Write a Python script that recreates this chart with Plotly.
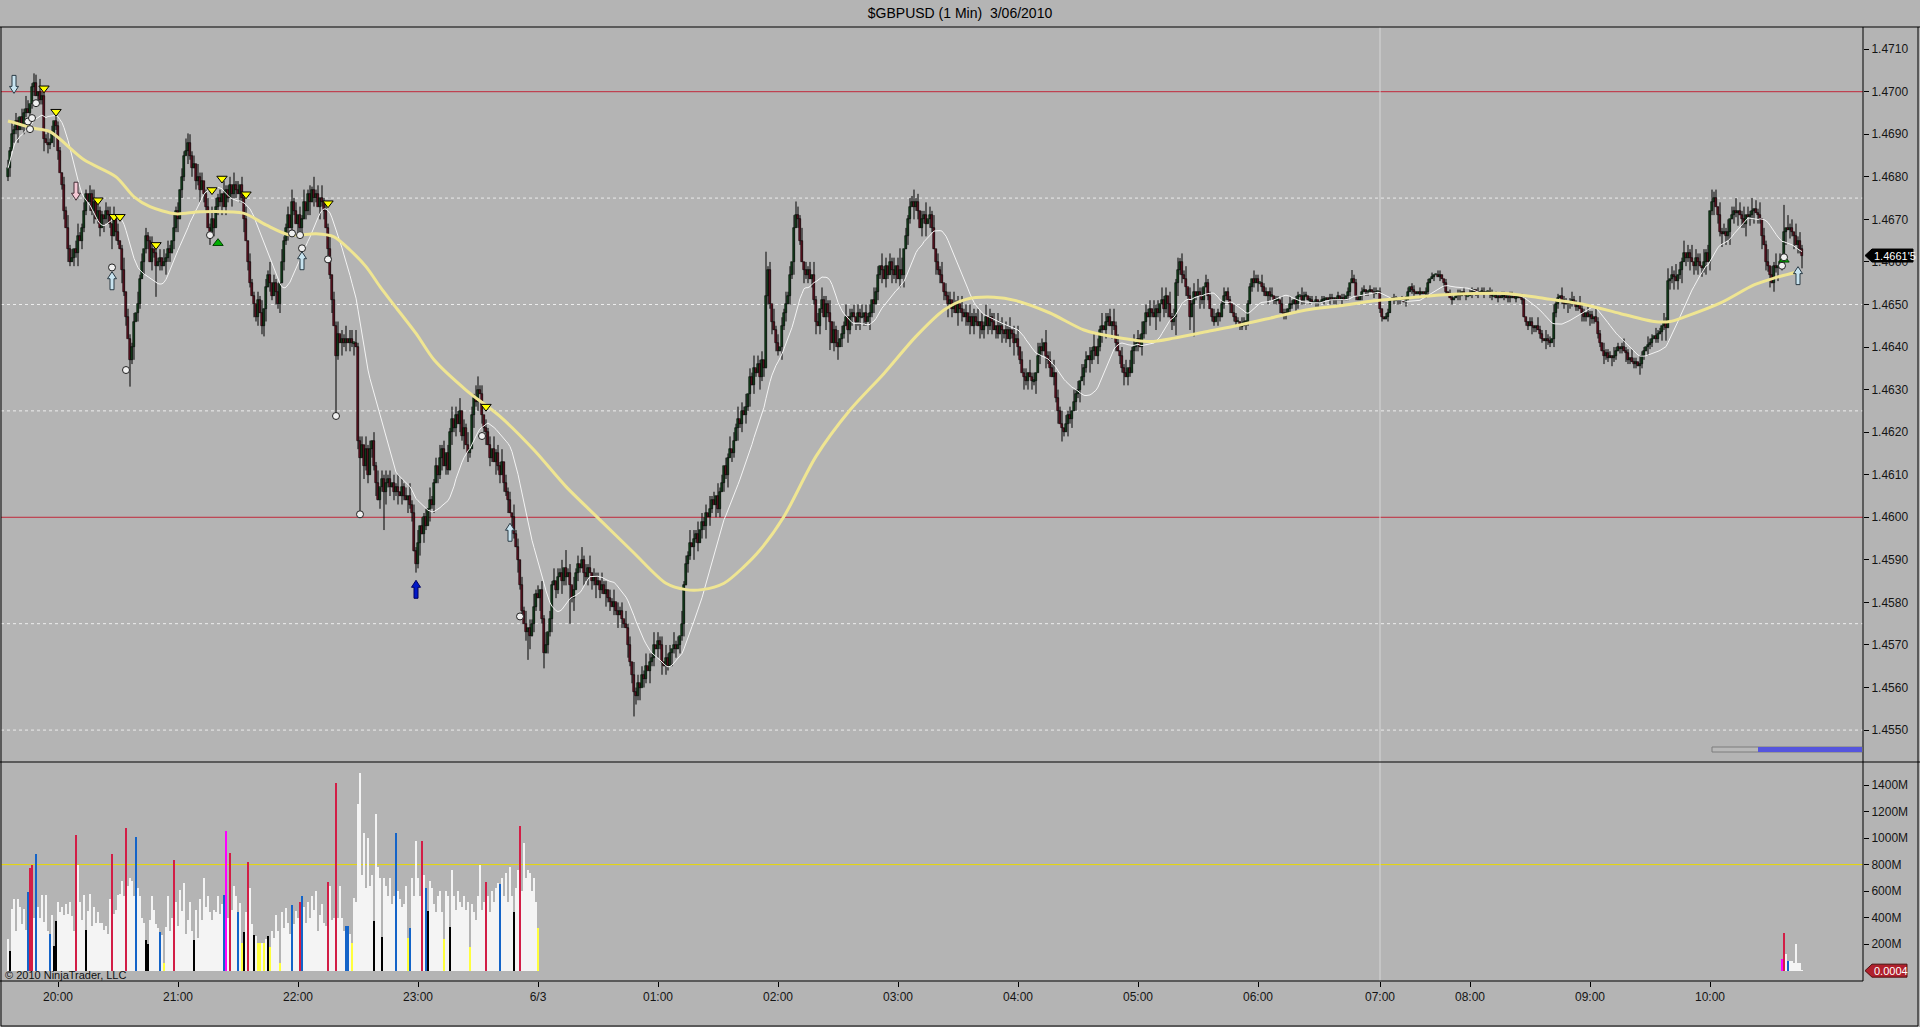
import plotly.graph_objects as go

# ---------------- DATA (prices in pips above 1.4500) ----------------
BASE = 1.4500
PIP = 0.0001

first_open_pips = 180
closes_pips = [
    182, 186, 190, 191, 193, 191, 194, 192, 195, 196,
    195, 197, 201, 202, 199, 200, 198, 199, 189, 188,
    187.5, 188, 190, 193, 192, 186, 181, 178, 172, 168,
    163, 160, 161, 163, 162, 166, 165, 168, 172, 176,
    174, 176, 172, 174, 170, 172, 168, 171, 170, 172,
    171, 169, 166, 170, 167, 165, 163, 158, 153, 147,
    142, 137, 140, 146, 148, 150, 156, 160, 163, 166,
    165, 160, 163, 162, 159, 160, 161, 159, 160, 161,
    163, 162, 165, 168, 172, 170, 177, 180, 185, 186,
    188, 185, 182, 183, 179, 180, 177, 179, 176, 173,
    168, 167, 170, 168, 173, 175, 174, 176, 173, 177,
    175, 178, 176, 178, 177, 176, 178, 175, 170, 165,
    160, 155, 152, 150, 147, 151, 148, 145, 149, 154,
    157, 155, 152, 155, 153, 150, 155, 160, 165, 168,
    171, 168, 174, 172, 169, 171, 168, 170, 174, 172,
    176, 174, 177, 175, 176, 173, 175, 174, 172, 168,
    163, 157, 151, 145, 138, 143, 141, 142, 141, 142,
    141, 142, 141, 141, 140, 118, 114, 117, 112, 116,
    110, 116, 118, 112, 108, 104, 107, 109, 106, 108,
    109, 107, 108, 106, 107, 106, 105, 107, 105, 104,
    105, 103, 101, 92, 89, 94, 98, 96, 100, 98,
    102, 104, 103, 108, 112, 110, 114, 116, 112, 115,
    111, 120, 123, 121, 124, 122, 125, 119, 121, 117,
    115, 116, 124, 128, 127, 130, 129, 124, 121, 120,
    117, 114, 116, 113, 115, 112, 110, 113, 108, 106,
    104, 101, 100, 96, 93, 90, 84, 78, 75, 73,
    74, 72, 75, 79, 82, 81, 83, 76, 68, 70,
    73, 76, 84, 85, 83, 86, 87, 85, 88, 86,
    87, 84, 81, 83, 87, 89, 88, 90, 87, 86,
    88, 87, 85, 86, 84, 85, 83, 84, 82, 83,
    81, 80, 79, 80, 78, 77, 78, 76, 75, 74,
    70, 66, 63, 59, 58, 61, 60, 63, 62, 65,
    64, 66, 67, 70, 69, 71, 70, 66, 65, 67,
    65, 68, 69, 70, 69, 70, 72, 75, 84, 89,
    91, 94, 93, 95, 96, 94, 97, 99, 98, 101,
    100, 102, 104, 103, 105, 102, 106, 108, 112, 110,
    114, 116, 115, 118, 121, 123, 122, 125, 124, 126,
    129, 133, 131, 135, 134, 136, 133, 137, 135, 152,
    158, 150, 146, 144, 141, 139, 140, 145, 148, 150,
    152, 157, 160, 168, 171, 170, 165, 160, 158, 157,
    158, 156, 157, 151, 146, 145, 149, 151, 147, 150,
    148, 146, 141, 144, 141, 140, 142, 143, 145, 147,
    144, 147, 148, 147, 146, 148, 147, 147, 148, 146,
    147, 148, 151, 150, 153, 157, 159, 158, 156, 159,
    157, 160, 158, 157, 159, 156, 158, 157, 163, 166,
    170, 173, 174, 173, 174, 172, 168, 170, 171, 169,
    170, 171, 168, 163, 160, 158, 157, 155, 153, 152,
    150, 151, 149, 150, 148, 150, 149, 148, 147, 148,
    146, 147, 145, 147, 146, 145, 146, 144, 145, 147,
    145, 147, 146, 144, 145, 143, 145, 144, 143, 144,
    142, 144, 143, 141, 142, 140, 137, 134, 133, 132,
    134, 133, 132, 132, 134, 138, 140, 139, 141, 138,
    137, 135, 133, 134, 128, 125, 122, 121, 120, 122,
    124, 123, 125, 127, 129, 130, 132, 133, 135, 137,
    138, 137, 139, 140, 138, 140, 144, 145, 144, 146,
    147, 145, 146, 145, 141, 139, 138, 135, 134, 133,
    135, 134, 139, 140, 141, 142, 140, 143, 146, 148,
    147, 149, 148, 147, 149, 148, 150, 151, 149, 152,
    150, 147, 146, 147, 155, 158, 160, 157, 156, 154,
    152, 147, 150, 153, 152, 153, 152, 151, 154, 155,
    152, 149, 147, 146, 147, 148, 147, 150, 152, 153,
    151, 150, 148, 147, 146, 146, 145, 145, 146, 146,
    150, 154, 156, 155, 156, 155, 155, 154, 153, 152,
    153, 152, 152, 151, 151, 151, 150, 148, 147.5, 148,
    149, 150, 150, 151, 150, 152, 152, 151, 152, 152,
    151, 151, 150.5, 150.5, 151, 150.5, 150.5, 151, 151, 151.5,
    151, 151.5, 151, 151.5, 151, 152, 151, 151.5, 151, 152,
    153, 155, 156, 155, 152, 151, 152, 153, 153.5, 153,
    153, 153.5, 153, 152.5, 153, 153, 149, 147, 146.5, 147,
    148, 151, 151.5, 151, 151, 151.5, 151, 151, 150.5, 151,
    153, 154, 153.5, 153, 152.5, 153, 152.5, 153, 152.5, 153,
    155, 156, 156.5, 157, 157, 156.5, 157, 156, 155, 153,
    152.5, 151.5, 151, 151.5, 152, 152.5, 152, 153, 152.5, 152,
    152, 152.5, 153, 153.5, 153, 152.5, 153, 153, 152.5, 153,
    153, 152.5, 152, 152, 151.5, 152, 151.5, 152, 152, 151.5,
    152, 151.5, 152, 151.5, 151.5, 152, 151.5, 151, 147, 146,
    145, 146, 145, 144.5, 145, 144, 143, 142, 141.5, 142,
    141.5, 141, 142, 148, 150, 151.5, 152, 151, 150, 150.5,
    150, 150.5, 151, 150, 149.5, 150, 149, 148, 147, 148,
    147, 147.5, 146.5, 147, 146, 143, 141, 139, 138, 138.5,
    137.5, 138, 137.5, 138, 139, 140, 139.5, 140, 139, 138.5,
    137, 137.5, 136.5, 136, 136.5, 135.5, 136, 138, 139, 140,
    140.5, 141, 142, 142.5, 142, 143, 143.5, 145, 146, 144.5,
    155.5, 156, 157, 156.5, 155.5, 157, 158, 160, 162, 161,
    162, 161, 160, 159, 161, 160, 159, 158.5, 160, 162,
    160, 172, 174, 175, 173, 171, 167, 166.5, 167, 166,
    167, 170, 171, 172, 171.5, 172, 171, 170, 169, 171,
    170.5, 171, 172, 172.5, 171.5, 171, 170, 166, 164, 160,
    159, 157, 155, 159, 158.5, 159, 160, 160.5, 167, 168,
    167.5, 168, 167, 166, 164, 165, 163, 161.5,
]

# estimated wick lengths (pips) beyond the candle body, one digit per bar
upper_wick_digits = "".join([
    "21312102132011203121312021102131202311210213021102",
    "12031201302112031202113021203121031202130212031201",
    "21302120311203120213021102130213021203112031202130",
    "12031203121302130213022031120312021302131202130212",
    "03121302120311203120213021302130213312021203121302",
    "12031202130213120213021302130212031203121302120312",
    "02130212031203120213021302120312031203121302130212",
    "03120312021302130213021302120312031202131203121302",
    "12031203121302130213021202130212031203120213021302",
    "12031202130213021302120312031203121302130212031202",
    "13021302120312031203121302130212031203120213021302",
    "12031202130213021302120312031203121302130212031202",
    "11021101201102110210110211021101201102110210110211",
    "01101001100110010110100110011001011010011001100101",
    "10110010011010011001011001101001100101100110100110",
    "01101001100110021102110211021101211021102110211021",
    "11021101211021102110211021102130213021302130212031",
    "203120312130213021302130213021302130212031203121",
])
lower_wick_digits = "".join([
    "12021301210312021130210312012031021302110213012031",
    "21302103120213021031202130210312021302103120213021",
    "03120213021031202130210312021302103120213021031202",
    "13021031202130210312021302103120213021031202130210",
    "31202130210312021302103120213021031202130210312021",
    "30210312021302103120213021031202130210312021302103",
    "12021302103120213021031202130210312021302103120213",
    "02103120213021031202130210312021302103120213021031",
    "20213021031202130210312021302103120213021031202130",
    "21031202130210312021302103120213021031202130210312",
    "02130210312021302103120213021031202130210312021302",
    "10312021302103120213021031202130210312021302103120",
    "10110210110201101102101102011021011020110110210110",
    "01001100100101100100110010010110010011001001011001",
    "00110010011001001011001001100100101100100110010010",
    "11001001011021101102110211011021101102110211011021",
    "10211011021101102110211011021302130213021302130213",
    "021302130213021302130213021302130213021302130213",
])

# long wicks (bar index -> pips)
high_spikes = {13: 204.3, 90: 190.2, 152: 177.7, 235: 133.1, 279: 92.3, 379: 162.4,
               394: 174.2, 446: 163.2, 452: 175.5, 586: 160.9, 672: 158.1, 853: 176.5, 888: 173.4}
low_spikes = {31: 159.2, 61: 130.7, 74: 151.8, 128: 142.5, 164: 123.7, 176: 100.7, 188: 97.0,
              204: 87.3, 260: 66.5, 268: 64.5, 281: 75.0, 313: 53.2, 411: 139.3, 527: 117.8,
              584: 142.8, 593: 142.5, 880: 157.7}

# slow moving average (yellow): bar index / pips
slow_ma_idx = [0, 13, 21, 38, 54, 63, 71, 84, 96, 118, 129, 141, 154, 163, 171, 179, 186, 191, 204, 213,
               229, 246, 263, 279, 296, 313, 329, 339, 347, 358, 368, 376, 388, 404, 421, 438, 454, 468, 479, 493,
               504, 521, 538, 554, 571, 583, 599, 616, 633, 649, 666, 683, 699, 716, 733, 749, 766, 773, 789, 806,
               823, 831, 839, 856, 873, 883, 895]
slow_ma_pips = [193.1, 191.4, 190.6, 184.0, 180.0, 175.3, 173.0, 171.3, 171.8, 171.4, 168.7, 166.3, 166.6, 165.9,
                162.8, 158.9, 154.2, 151.1, 143.2, 137.0, 129.9, 123.7, 115.8, 107.2, 99.4, 91.6, 84.5, 83.0, 83.0,
                84.5, 88.4, 92.3, 100.2, 114.3, 125.2, 133.8, 142.5, 148.7, 151.2, 151.7, 150.9, 148.0, 144.0, 142.3,
                141.3, 142.1, 143.6, 145.2, 147.0, 148.7, 149.7, 150.9, 151.5, 152.2, 152.6, 152.6, 151.6, 151.1,
                149.9, 147.9, 146.0, 146.0, 147.2, 150.3, 154.6, 156.2, 157.7]
FAST_MA_PERIOD = 20

# volume (millions) with bar classification colour codes
vol_start_idx = 0
vol_start_vals = [
    240, 146, 466, 543, 300, 543, 480, 350, 466, 310,
    595, 774, 800, 400, 877, 480, 400, 570, 370, 570,
    300, 274, 420, 185, 377, 520, 440, 480, 420, 500,
    430, 520, 410, 300, 1023, 800, 520, 380, 570, 305,
    450, 580, 340, 480, 360, 440, 360, 360, 310, 340,
    280, 540, 882, 430, 460, 570, 580, 680, 560, 1074,
    640, 700, 680, 560, 1005, 620, 560, 400, 360, 230,
    200, 380, 560, 460, 350, 320, 292, 270, 56, 330,
    560, 300, 400, 833, 520, 340, 610, 450, 660, 280,
    380, 520, 300, 230, 460, 250, 540, 380, 700, 480,
    560, 440, 380, 460, 440, 560, 430, 500, 574, 1051,
    400, 887, 460, 640, 560, 441, 510, 210, 295, 440,
    818, 620, 350, 272, 260, 205, 205, 210, 205, 240,
    260, 180, 300, 250, 420, 300, 56, 440, 320, 470,
    360, 280, 492, 350, 450, 400, 518, 564, 480, 360,
    520, 400, 560, 460, 600, 300, 420, 500, 360, 340,
    672, 640, 380, 400, 1415, 400, 640, 400, 300, 338,
    338, 280, 205, 550, 520, 1260, 1490, 720, 1040, 620,
    1000, 640, 720, 372, 1180, 780, 700, 256, 700, 640,
    560, 700, 500, 560, 1036, 600, 540, 480, 500, 640,
    249, 320, 700, 560, 980, 700, 560, 979, 720, 626,
    451, 680, 620, 500, 440, 560, 600, 440, 241, 600,
    560, 326, 760, 560, 460, 600, 520, 480, 560, 460,
    520, 180, 500, 440, 380, 560, 800, 460, 520, 667,
    560, 440, 600, 520, 620, 660, 651, 700, 560, 740,
    520, 780, 560, 441, 620, 760, 1095, 600, 960, 700,
    760, 740, 600, 700, 520, 323,
]
vol_start_codes = ("wkwwwwwwww" "brrwbwwwww" "wbwkkwwwww" "wwwwrwwwwk" "wwwwwwwwww"
                   "wwrwwwwwwr" "wwwwbwwwwk" "kwwwwwbwyw" "wwwrwwwwww" "wwwkwwwwww"
                   "wwwwwwwwbm" "wrwwwbwykw" "rwwkwyywyw" "kywwwwywww" "wwbwwwrbww"
                   "wwwwwwwwww" "rwwwrwwwwb" "bwywwwwwww" "wwwkwwwkww" "wwwwbwwwww"
                   "ybwwwwwrwb" "kwwwwwwwyw" "wkwwwwwwww" "wywwwwwwwr" "wwwwwwbwww"
                   "wwwkwwrwww" "wwwwwy")
vol_end_idx = 887
vol_end_vals = [86, 283, 126, 76, 76, 76, 60, 202, 55, 55, 3]
vol_end_codes = "mrwbwwwwwww"
VOL_COLORS = {"w": "#F4F4F4", "r": "#D21E46", "b": "#1464C8", "k": "#000000", "y": "#FFFF3C", "m": "#FF00FF"}
vol_alert_level = 800

# signals: (bar index, pips)
sell_triangles = [(18, 200.8), (24, 195.3), (45, 174.5), (53, 170.6), (56, 170.6), (74, 164.0),
                  (102, 176.9), (107, 179.6), (119, 175.9), (160, 173.8), (239, 126.0)]
buy_triangles = [(105, 164.4), (888, 160.5)]
pivot_circles = [(10, 193.0), (12, 193.8), (11, 191.2), (14, 197.3), (52, 158.7), (59, 134.6), (101, 166.3),
                 (142, 166.7), (146, 166.3), (147, 163.2), (160, 160.6), (164, 123.8), (176, 100.7),
                 (237, 119.1), (256, 76.7), (887, 159.1), (888, 161.1)]
light_down_arrows = [(3, 199.6)]
pink_down_arrows = [(34, 174.5)]
light_up_arrows = [(52, 157.7), (147, 162.4), (251, 98.6), (895, 158.9)]
blue_up_arrows = [(204, 85.2)]

ref_levels_red = [1.4700, 1.4600]
ref_levels_dash = [1.4675, 1.4650, 1.4625, 1.4575, 1.4550]

price_ticks = [1.4550, 1.4560, 1.4570, 1.4580, 1.4590, 1.4600, 1.4610, 1.4620, 1.4630, 1.4640,
               1.4650, 1.4660, 1.4670, 1.4680, 1.4690, 1.4700, 1.4710]
vol_ticks = [200, 400, 600, 800, 1000, 1200, 1400]
time_tick_bars = [25, 85, 145, 205, 265, 325, 385, 445, 505, 565, 625, 686, 731, 791, 851]
time_tick_labels = ["20:00", "21:00", "22:00", "23:00", "6/3", "01:00", "02:00", "03:00", "04:00",
                    "05:00", "06:00", "07:00", "08:00", "09:00", "10:00"]
session_break_bar = 686
last_price_text = "1.4661'5"
last_volume_text = "0.0004"

# ---------------- DERIVED ----------------
def px(p):
    return BASE + p * PIP

n = len(closes_pips)
idx = list(range(n))
opens_pips = [first_open_pips] + closes_pips[:-1]
highs_pips, lows_pips = [], []
for i in range(n):
    o, c = opens_pips[i], closes_pips[i]
    uw = int(upper_wick_digits[i]) if i < len(upper_wick_digits) else 0
    lw = int(lower_wick_digits[i]) if i < len(lower_wick_digits) else 0
    h = max(o, c) + uw
    l = min(o, c) - lw
    if i in high_spikes:
        h = max(h, high_spikes[i])
    if i in low_spikes:
        l = min(l, low_spikes[i])
    highs_pips.append(h)
    lows_pips.append(l)

fast_ma = []
for i in range(n):
    w = closes_pips[max(0, i - FAST_MA_PERIOD + 1): i + 1]
    fast_ma.append(sum(w) / len(w))

# candle pieces: wick segments and bodies
wick_x, wick_y = [], []
for i in range(n):
    wick_x += [i, i, None]
    wick_y += [px(lows_pips[i]), px(highs_pips[i]), None]
body_base, body_len, body_col = [], [], []
UP_FILL, DN_FILL = "#237A36", "#B82440"
for i in range(n):
    o, c = opens_pips[i], closes_pips[i]
    lo, hi = min(o, c), max(o, c)
    if hi - lo < 0.35:
        lo, hi = (lo + hi) / 2 - 0.175, (lo + hi) / 2 + 0.175
    body_base.append(px(lo))
    body_len.append((hi - lo) * PIP)
    body_col.append(UP_FILL if c >= o else DN_FILL)

# ---------------- GEOMETRY ----------------
W, H = 1920, 1027
PL, PR, PT, PB = 1, 1863, 27, 981
SEP = 762
FONT = "Arial, 'Liberation Sans', sans-serif"


def fx(p):
    return (p - PL) / (PR - PL)


def fy(p):
    return (PB - p) / (PB - PT)


split = fy(SEP)

fig = go.Figure()

fig.add_trace(go.Scatter(x=wick_x, y=wick_y, mode="lines", line=dict(color="#000000", width=1),
                         connectgaps=False, showlegend=False, hoverinfo="skip", xaxis="x", yaxis="y"))
fig.add_trace(go.Bar(x=idx, y=body_len, base=body_base, width=1.0,
                     marker=dict(color=body_col, line=dict(color="#000000", width=0.6)),
                     showlegend=False, hoverinfo="skip", xaxis="x", yaxis="y"))

fig.add_trace(go.Scatter(x=idx, y=[px(v) for v in fast_ma], mode="lines",
                         line=dict(color="#F4F4F4", width=1), showlegend=False,
                         hoverinfo="skip", xaxis="x", yaxis="y"))
fig.add_trace(go.Scatter(x=slow_ma_idx, y=[px(v) for v in slow_ma_pips], mode="lines",
                         line=dict(color="#EFE592", width=3, shape="spline", smoothing=0.8),
                         showlegend=False, hoverinfo="skip", xaxis="x", yaxis="y"))

fig.add_trace(go.Scatter(x=[a for a, b in sell_triangles], y=[px(b) for a, b in sell_triangles],
                         mode="markers", marker=dict(symbol="triangle-down", size=9, color="#FFFF00",
                                                     line=dict(color="#000000", width=1)),
                         showlegend=False, hoverinfo="skip", xaxis="x", yaxis="y"))
fig.add_trace(go.Scatter(x=[a for a, b in buy_triangles], y=[px(b) for a, b in buy_triangles],
                         mode="markers", marker=dict(symbol="triangle-up", size=9, color="#00B000",
                                                     line=dict(color="#004000", width=1)),
                         showlegend=False, hoverinfo="skip", xaxis="x", yaxis="y"))
fig.add_trace(go.Scatter(x=[a for a, b in pivot_circles], y=[px(b) for a, b in pivot_circles],
                         mode="markers", marker=dict(symbol="circle", size=7, color="#F0F0F0",
                                                     line=dict(color="#202020", width=1)),
                         showlegend=False, hoverinfo="skip", xaxis="x", yaxis="y"))

vol_x = list(range(vol_start_idx, vol_start_idx + len(vol_start_vals))) + \
    list(range(vol_end_idx, vol_end_idx + len(vol_end_vals)))
vol_y = vol_start_vals + vol_end_vals
vol_c = [VOL_COLORS[c] for c in (vol_start_codes + vol_end_codes)]
fig.add_trace(go.Bar(x=vol_x, y=vol_y, marker=dict(color=vol_c, line=dict(width=0)), width=0.9,
                     showlegend=False, hoverinfo="skip", xaxis="x2", yaxis="y2"))

shapes = []
# reference lines
for lv in ref_levels_dash:
    shapes.append(dict(type="line", xref="paper", yref="y", x0=0, x1=1, y0=lv, y1=lv,
                       line=dict(color="#EDEDED", width=1, dash="3px,3px"), layer="below"))
for lv in ref_levels_red:
    shapes.append(dict(type="line", xref="paper", yref="y", x0=0, x1=1, y0=lv, y1=lv,
                       line=dict(color="#C0283A", width=1), layer="below"))
shapes.append(dict(type="line", xref="paper", yref="y2", x0=0, x1=1, y0=vol_alert_level, y1=vol_alert_level,
                   line=dict(color="#E8D800", width=1), layer="below"))
shapes.append(dict(type="line", xref="x", yref="paper", x0=session_break_bar, x1=session_break_bar, y0=0, y1=1,
                   line=dict(color="#D6D6D6", width=1), layer="below"))


def arrow(i, p, up, fill, edge):
    if up:
        path = "M 0 0 L 4.5 -7 L 2 -7 L 2 -18 L -2 -18 L -2 -7 L -4.5 -7 Z"
    else:
        path = "M 0 0 L 4.5 7 L 2 7 L 2 18 L -2 18 L -2 7 L -4.5 7 Z"
    return dict(type="path", xref="x", yref="y", xsizemode="pixel", ysizemode="pixel",
                xanchor=i, yanchor=px(p), path=path, fillcolor=fill,
                line=dict(color=edge, width=1), layer="above")


for i, p in light_down_arrows:
    shapes.append(arrow(i, p, False, "#C8E4F0", "#2A3A44"))
for i, p in pink_down_arrows:
    shapes.append(arrow(i, p, False, "#F4C8D4", "#443038"))
for i, p in light_up_arrows:
    shapes.append(arrow(i, p, True, "#C8E4F0", "#2A3A44"))
for i, p in blue_up_arrows:
    shapes.append(arrow(i, p, True, "#0018C8", "#000060"))

# frame lines
blk = dict(color="#000000", width=1)
shapes += [
    dict(type="line", xref="paper", yref="paper", x0=fx(0), x1=fx(W), y0=1, y1=1, line=blk),
    dict(type="line", xref="paper", yref="paper", x0=fx(0), x1=fx(W), y0=split, y1=split, line=blk),
    dict(type="line", xref="paper", yref="paper", x0=fx(0), x1=1, y0=0, y1=0, line=blk),
    dict(type="line", xref="paper", yref="paper", x0=1, x1=1, y0=0, y1=1, line=blk),
    dict(type="line", xref="paper", yref="paper", x0=fx(1), x1=fx(1), y0=fy(H - 1), y1=1, line=blk),
    dict(type="line", xref="paper", yref="paper", x0=fx(1), x1=fx(W - 2), y0=fy(H - 1), y1=fy(H - 1), line=blk),
    dict(type="line", xref="paper", yref="paper", x0=fx(W - 2), x1=fx(W - 2), y0=fy(H - 1), y1=1, line=blk),
]
# progress bar (UI element)
shapes.append(dict(type="rect", xref="paper", yref="paper", x0=fx(1712), x1=fx(1862), y0=fy(752), y1=fy(747),
                   fillcolor="#B8B8B8", line=dict(color="#7C7C7C", width=1)))
shapes.append(dict(type="rect", xref="paper", yref="paper", x0=fx(1758), x1=fx(1862), y0=fy(752), y1=fy(747),
                   fillcolor="#5555DD", line=dict(width=0)))
# value tags
shapes.append(dict(type="path", xref="paper", yref="y", xsizemode="pixel", ysizemode="pixel",
                   xanchor=1, yanchor=px(closes_pips[-1]),
                   path="M 2 0 L 9 6.5 L 50 6.5 L 50 -6.5 L 9 -6.5 Z", fillcolor="#000000",
                   line=dict(color="#000000", width=1), layer="above"))
shapes.append(dict(type="path", xref="paper", yref="y2", xsizemode="pixel", ysizemode="pixel",
                   xanchor=1, yanchor=0,
                   path="M 2 0 L 9 6.5 L 44 6.5 L 44 -6.5 L 9 -6.5 Z", fillcolor="#B0202C",
                   line=dict(color="#501010", width=1), layer="above"))

annotations = [
    dict(xref="paper", yref="y", x=1, y=px(closes_pips[-1]), xanchor="left", yanchor="middle", xshift=9,
         text=last_price_text, showarrow=False, font=dict(family=FONT, size=11, color="#FFFFFF")),
    dict(xref="paper", yref="y2", x=1, y=0, xanchor="left", yanchor="middle", xshift=9,
         text=last_volume_text, showarrow=False, font=dict(family=FONT, size=11, color="#FFFFFF")),
    dict(xref="paper", yref="paper", x=fx(3), y=fy(975), xanchor="left", yanchor="middle",
         text="© 2010 NinjaTrader, LLC", showarrow=False, font=dict(family=FONT, size=11, color="#101010")),
]

axis_common = dict(showgrid=False, zeroline=False, showline=False)
fig.update_layout(
    width=W, height=H, autosize=False,
    margin=dict(l=PL, r=W - PR, t=PT, b=H - PB, pad=0),
    paper_bgcolor="#B4B4B4", plot_bgcolor="#B4B4B4",
    font=dict(family=FONT, size=11, color="#141414"),
    title=dict(text="$GBPUSD (1 Min) \u00a03/06/2010", x=0.5, xanchor="center", y=1 - 13.5 / H,
               yanchor="middle", font=dict(family=FONT, size=14, color="#000000")),
    showlegend=False, hovermode=False, bargap=0, barmode="overlay",
    xaxis=dict(domain=[0, 1], anchor="y", range=[-3.5, 927.5], showticklabels=False, ticks="",
               rangeslider=dict(visible=False), **axis_common),
    xaxis2=dict(domain=[0, 1], anchor="y2", range=[-3.5, 927.5], tickmode="array",
                tickvals=time_tick_bars, ticktext=time_tick_labels, ticks="outside", ticklen=5,
                tickcolor="#000000", tickfont=dict(family=FONT, size=12, color="#141414"), **axis_common),
    yaxis=dict(domain=[split, 1], anchor="x", side="right", range=[1.45425, 1.47152], tickmode="array",
               tickvals=price_ticks, ticktext=["%.4f" % t for t in price_ticks], ticks="outside", ticklen=5,
               tickcolor="#000000", tickfont=dict(family=FONT, size=12, color="#141414"), **axis_common),
    yaxis2=dict(domain=[0, split], anchor="x2", side="right", range=[-78, 1574], tickmode="array",
                tickvals=vol_ticks, ticktext=["%dM" % t for t in vol_ticks], ticks="outside", ticklen=5,
                tickcolor="#000000", tickfont=dict(family=FONT, size=12, color="#141414"), **axis_common),
    shapes=shapes, annotations=annotations,
)

fig.write_html("out.html", config={"displayModeBar": False},
               post_script="document.body.style.margin='0';document.body.style.overflow='hidden';")
